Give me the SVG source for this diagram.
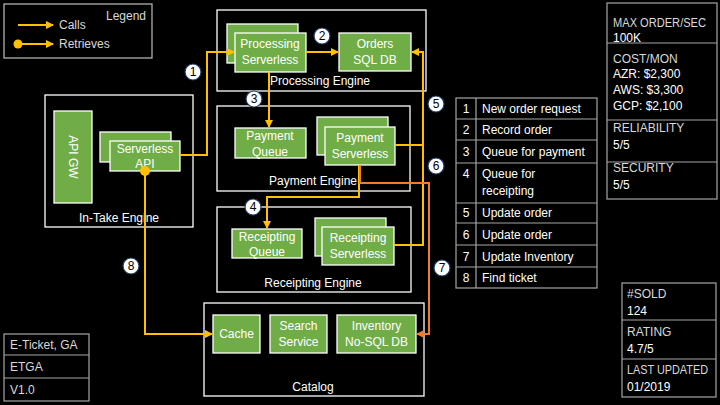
<svg xmlns="http://www.w3.org/2000/svg" width="720" height="405" viewBox="0 0 720 405">
<defs>
<style>
text{font-family:"Liberation Sans",Arial,sans-serif;font-size:12px;}
.box{fill:none;stroke:#ffffff;stroke-width:1.3;}
.g{fill:#70ad47;stroke:#ffffff;stroke-width:1.3;}
.wt{fill:#ffffff;text-anchor:middle;}
.lbl{fill:#ffffff;text-anchor:middle;}
.gt{fill:#d9d9d9;}
.tb{fill:none;stroke:#a6a6a6;stroke-width:1.2;}
.y{fill:none;stroke:#ffc000;stroke-width:2;}
.o{fill:none;stroke:#ed7d31;stroke-width:2;}
.num circle{fill:#ffffff;stroke:#1f3864;stroke-width:1.2;}
.num text{fill:#000000;text-anchor:middle;font-size:12px;}
</style>
<marker id="ay" viewBox="0 0 8 8" refX="7" refY="4" markerWidth="8" markerHeight="8" markerUnits="userSpaceOnUse" orient="auto"><path d="M0,0 L8,4 L0,8 z" fill="#ffc000"/></marker>
<marker id="ao" viewBox="0 0 8 8" refX="7" refY="4" markerWidth="8" markerHeight="8" markerUnits="userSpaceOnUse" orient="auto"><path d="M0,0 L8,4 L0,8 z" fill="#ed7d31"/></marker>
</defs>
<rect width="720" height="405" fill="#000000"/>

<g id="legend">
<rect x="4" y="4" width="148" height="54" fill="none" stroke="#bfbfbf" stroke-width="1.2"/>
<text x="106" y="20" class="gt">Legend</text>
<line x1="18" y1="25" x2="53" y2="25" class="y" marker-end="url(#ay)"/>
<text x="59" y="29" class="gt">Calls</text>
<circle cx="18" cy="44" r="4.5" fill="#ffc000"/>
<line x1="18" y1="44" x2="53" y2="44" class="y" marker-end="url(#ay)"/>
<text x="59" y="48" class="gt">Retrieves</text>
</g>

<g id="intake-engine">
<rect x="45" y="95" width="148" height="132" class="box"/>
<text x="119" y="222" class="lbl">In-Take Engine</text>
</g>
<g id="api-gw">
<rect x="54" y="111" width="38" height="92" class="g"/>
<text x="73" y="157" class="wt" transform="rotate(90 73 157)" dy="4">API GW</text>
</g>
<g id="serverless-api">
<rect x="100" y="132" width="71" height="30" class="g"/>
<rect x="110" y="141" width="70" height="30" class="g"/>
<text x="145" y="153" class="wt">Serverless</text>
<text x="145" y="168" class="wt">API</text>
</g>

<g id="processing-engine">
<rect x="217" y="10" width="209" height="81" class="box"/>
<text x="320" y="85" class="lbl">Processing Engine</text>
</g>
<g id="processing-serverless">
<rect x="227" y="24" width="71" height="39" class="g"/>
<rect x="235" y="33" width="71" height="39" class="g"/>
<text x="270" y="48" class="wt">Processing</text>
<text x="270" y="64" class="wt">Serverless</text>
</g>
<g id="orders-sql-db">
<rect x="339" y="33" width="72" height="38" class="g"/>
<text x="375" y="48" class="wt">Orders</text>
<text x="375" y="64" class="wt">SQL DB</text>
</g>

<g id="payment-engine">
<rect x="217" y="106" width="193" height="85" class="box"/>
<text x="313" y="185" class="lbl">Payment Engine</text>
</g>
<g id="payment-queue">
<rect x="235" y="128" width="71" height="30" class="g"/>
<text x="270" y="140" class="wt">Payment</text>
<text x="270" y="156" class="wt">Queue</text>
</g>
<g id="payment-serverless">
<rect x="317" y="117" width="71" height="38" class="g"/>
<rect x="325" y="127" width="70" height="38" class="g"/>
<text x="360" y="142" class="wt">Payment</text>
<text x="360" y="158" class="wt">Serverless</text>
</g>

<g id="receipting-engine">
<rect x="217" y="207" width="194" height="85" class="box"/>
<text x="313" y="287" class="lbl">Receipting Engine</text>
</g>
<g id="receipting-queue">
<rect x="232" y="229" width="70" height="29" class="g"/>
<text x="267" y="241" class="wt">Receipting</text>
<text x="267" y="256" class="wt">Queue</text>
</g>
<g id="receipting-serverless">
<rect x="315" y="218" width="71" height="38" class="g"/>
<rect x="322" y="227" width="72" height="38" class="g"/>
<text x="358" y="242" class="wt">Receipting</text>
<text x="358" y="258" class="wt">Serverless</text>
</g>

<g id="catalog">
<rect x="204" y="303" width="220" height="93" class="box"/>
<text x="313" y="391" class="lbl">Catalog</text>
</g>
<g id="cache">
<rect x="213" y="315" width="47" height="38" class="g"/>
<text x="236.5" y="338" class="wt">Cache</text>
</g>
<g id="search-service">
<rect x="270" y="315" width="57" height="38" class="g"/>
<text x="298.5" y="330" class="wt">Search</text>
<text x="298.5" y="346" class="wt">Service</text>
</g>
<g id="inventory-db">
<rect x="337" y="315" width="79" height="38" class="g"/>
<text x="376.5" y="330" class="wt">Inventory</text>
<text x="376.5" y="346" class="wt">No-SQL DB</text>
</g>

<g id="connectors">
<path d="M180,155 H207 V52 H234" class="y" marker-end="url(#ay)"/>
<path d="M306,52 H338" class="y" marker-end="url(#ay)"/>
<path d="M269,72 V127" class="y" marker-end="url(#ay)"/>
<path d="M359,165 V197 H267 V228" class="y" marker-end="url(#ay)"/>
<path d="M395,145 H423 M394,245 H423 V52 H412" class="y" marker-end="url(#ay)"/>
<path d="M360,165 V183 H429 V334 H417" class="o" marker-end="url(#ao)"/>
<path d="M145,171 V334 H212" class="y" marker-end="url(#ay)"/>
<circle cx="145" cy="171" r="5" fill="#ffc000"/>
</g>

<g id="step-numbers">
<g class="num"><circle cx="193" cy="72" r="8"/><text x="193" y="76">1</text></g>
<g class="num"><circle cx="322" cy="36" r="8"/><text x="322" y="40">2</text></g>
<g class="num"><circle cx="254" cy="99" r="8"/><text x="254" y="103">3</text></g>
<g class="num"><circle cx="253" cy="207" r="8"/><text x="253" y="211">4</text></g>
<g class="num"><circle cx="436" cy="104" r="8"/><text x="436" y="108">5</text></g>
<g class="num"><circle cx="436" cy="166" r="8"/><text x="436" y="170">6</text></g>
<g class="num"><circle cx="442" cy="268" r="8"/><text x="442" y="272">7</text></g>
<g class="num"><circle cx="131" cy="266" r="8"/><text x="131" y="270">8</text></g>
</g>

<g id="steps-table">
<rect x="456" y="98" width="141" height="190" class="tb"/>
<path d="M476,98 V288 M456,119 H597 M456,140 H597 M456,163 H597 M456,203 H597 M456,223 H597 M456,245 H597 M456,267 H597" class="tb"/>
<g fill="#ffffff">
<text x="466" y="113" text-anchor="middle">1</text><text x="482" y="113">New order request</text>
<text x="466" y="134" text-anchor="middle">2</text><text x="482" y="134">Record order</text>
<text x="466" y="156" text-anchor="middle">3</text><text x="482" y="156">Queue for payment</text>
<text x="466" y="178" text-anchor="middle">4</text><text x="482" y="178">Queue for</text><text x="482" y="195">receipting</text>
<text x="466" y="217" text-anchor="middle">5</text><text x="482" y="217">Update order</text>
<text x="466" y="239" text-anchor="middle">6</text><text x="482" y="239">Update order</text>
<text x="466" y="261" text-anchor="middle">7</text><text x="482" y="261">Update Inventory</text>
<text x="466" y="282" text-anchor="middle">8</text><text x="482" y="282">Find ticket</text>
</g>
</g>

<g id="stats-box">
<rect x="607" y="3" width="110" height="196" class="tb"/>
<path d="M607,43 H717 M607,120 H717 M607,162 H717" class="tb"/>
<g class="gt">
<text x="613" y="27" textLength="93" lengthAdjust="spacingAndGlyphs">MAX ORDER/SEC</text>
<text x="613" y="42" fill="#ffffff">100K</text>
<text x="613" y="63">COST/MON</text>
<text x="613" y="78" fill="#ffffff">AZR: $2,300</text>
<text x="613" y="94" fill="#ffffff">AWS: $3,300</text>
<text x="613" y="110" fill="#ffffff">GCP: $2,100</text>
<text x="613" y="132">RELIABILITY</text>
<text x="613" y="149" fill="#ffffff">5/5</text>
<text x="613" y="172">SECURITY</text>
<text x="613" y="189" fill="#ffffff">5/5</text>
</g>
</g>

<g id="rating-box">
<rect x="622" y="283" width="94" height="114" class="tb"/>
<path d="M622,320 H716 M622,359 H716" class="tb"/>
<g class="gt">
<text x="627" y="298">#SOLD</text>
<text x="627" y="315" fill="#ffffff">124</text>
<text x="627" y="336">RATING</text>
<text x="627" y="353" fill="#ffffff">4.7/5</text>
<text x="627" y="374" textLength="81" lengthAdjust="spacingAndGlyphs">LAST UPDATED</text>
<text x="627" y="391" fill="#ffffff">01/2019</text>
</g>
</g>

<g id="id-box">
<rect x="4" y="334" width="85" height="67" class="tb"/>
<path d="M4,355 H89 M4,378 H89" class="tb"/>
<g class="gt">
<text x="10" y="349">E-Ticket, GA</text>
<text x="10" y="371">ETGA</text>
<text x="10" y="394">V1.0</text>
</g>
</g>
</svg>
